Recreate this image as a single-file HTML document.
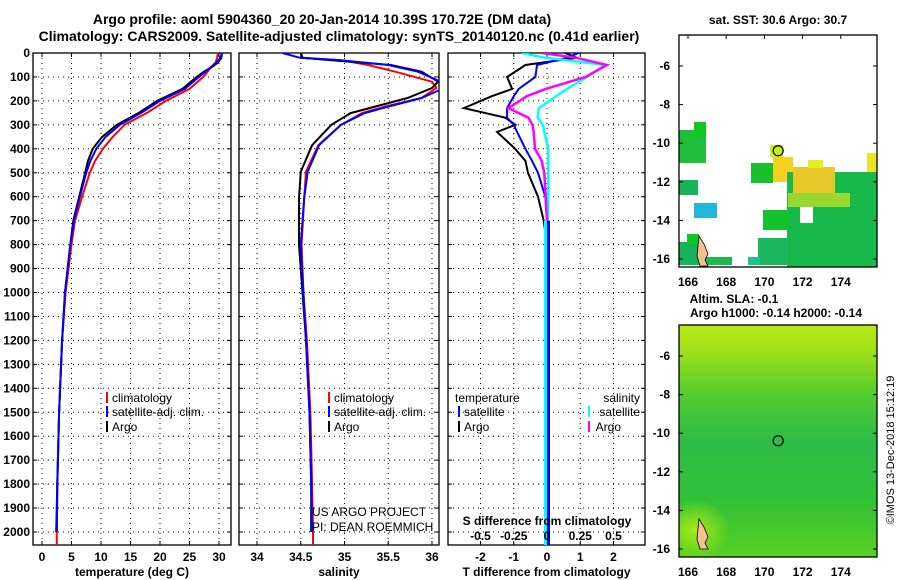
<!DOCTYPE html>
<html><head><meta charset="utf-8"><style>
body{margin:0;background:#fff;}
svg{display:block;font-family:"Liberation Sans",sans-serif;}
</style></head><body>
<svg id="c" width="900" height="580" xmlns="http://www.w3.org/2000/svg"></svg>
<script>
// ---- data ----
const depthTicks=[0,100,200,300,400,500,600,700,800,900,1000,1100,1200,1300,1400,1500,1600,1700,1800,1900,2000];
const tempTicks=[0,5,10,15,20,25,30];
const salTicks=[34,34.5,35,35.5,36];
const tdTicks=[-2,-1,0,1,2];
const sdTicks=[-0.5,-0.25,0,0.25,0.5];
const tDepth=[0,20,40,60,80,100,150,200,250,300,350,400,450,500,600,700,800,1000,1200,1500,1800,2000];
const tempArgo=[30.5,30.4,29.8,28.7,27.3,26.2,23.8,19.5,16.4,12.7,10.2,8.6,7.8,7.3,6.3,5.3,4.8,3.9,3.4,2.9,2.6,2.4];
const tempSat=[30.5,30.2,29.6,28.6,27.6,26.6,24.2,20,16.8,13.2,10.8,9.2,8.2,7.5,6.4,5.4,4.8,3.9,3.4,2.9,2.6,2.5];
const tempClim=[29.8,29.7,29.4,28.6,28,27.3,25,21,17.8,14,12,10.3,9,8.1,6.8,5.6,5,4,3.4,2.9,2.6,2.5];
const sDepth=[0,20,30,50,78,120,146,188,224,251,300,385,495,605,800,1000,1200,1500,1800,2000];
const salArgo=[34.5,34.52,34.85,35.53,35.88,36.07,36.0,35.72,35.35,35.07,34.85,34.63,34.5,34.48,34.48,34.52,34.56,34.6,34.62,34.62];
const salSat=[34.29,34.49,34.96,35.5,35.84,36.1,36.14,35.88,35.5,35.23,34.96,34.71,34.58,34.54,34.5,34.53,34.56,34.6,34.62,34.63];
const salClim=[34.5,34.52,34.96,35.27,35.58,36.0,36.05,35.88,35.46,35.2,34.96,34.7,34.56,34.54,34.51,34.53,34.57,34.61,34.63,34.64];
const dDepth=[0,20,50,100,150,180,230,270,300,330,400,450,500,600,700,800,2000];
const tdArgo=[0.55,0.9,-0.65,-1.2,-1.05,-1.65,-2.5,-1.25,-0.95,-1.5,-0.96,-0.65,-0.57,-0.27,-0.1,0,0];
const tdSat=[0.95,0.6,-0.3,-0.35,-0.85,-1.0,-1.2,-1.2,-1.0,-0.9,-0.65,-0.45,-0.27,-0.05,0,0.02,0.05];
const sdArgo=[-0.04,0.22,0.45,0.29,-0.01,-0.15,-0.29,-0.14,-0.11,-0.1,-0.09,-0.04,-0.02,-0.01,0,0,0];
const sdSat=[-0.19,-0.01,0.44,0.3,0.15,0.07,-0.06,-0.07,-0.03,-0.02,0.01,0.01,0.01,0.01,0.005,0.005,0];

const NS='http://www.w3.org/2000/svg';
const svg=document.getElementById('c');
function el(tag,attrs,parent){const e=document.createElementNS(NS,tag);for(const k in attrs)e.setAttribute(k,attrs[k]);(parent||svg).appendChild(e);return e;}
function txt(s,x,y,size,anchor,weight,fill,parent){const t=el('text',{x:x,y:y,'font-size':size,'text-anchor':anchor||'middle','font-weight':weight||'bold',fill:fill||'#000'},parent);t.textContent=s;return t;}

const yTop=53,yPer=0.2395;
function yD(d){return yTop+d*yPer;}
const panelTop=53, panelBot=545;
function xT(v){return 42+v*5.9;}
function xS(v){return 257+(v-34)*87.5;}
function xTD(v){return 547+v*33.25;}
function xSD(v){return 547+v*133;}
const defs=el('defs',{});

let t=txt('Argo profile: aoml 5904360_20 20-Jan-2014 10.39S 170.72E (DM data)',322,24,14);

t=txt('Climatology: CARS2009. Satellite-adjusted climatology: synTS_20140120.nc (0.41d earlier)',339,41,14);


let clipN=0;
function panel(name,x0,x1,xticks,xf,xfmt,xlabel){
  const g=el('g',{});
  
  
  depthTicks.forEach(d=>{el('line',{x1:x0,x2:x1,y1:yD(d),y2:yD(d),stroke:'#000','stroke-dasharray':'1,4','stroke-width':1},g);
    el('line',{x1:x0,x2:x0+4,y1:yD(d),y2:yD(d),stroke:'#000'},g);el('line',{x1:x1-4,x2:x1,y1:yD(d),y2:yD(d),stroke:'#000'},g);});
  xticks.forEach(v=>{const x=xf(v);el('line',{x1:x,x2:x,y1:panelTop,y2:panelBot,stroke:'#000','stroke-dasharray':'1,4'},g);
    el('line',{x1:x,x2:x,y1:panelBot-4,y2:panelBot,stroke:'#000'},g);el('line',{x1:x,x2:x,y1:panelTop,y2:panelTop+4,stroke:'#000'},g);
    const tt=txt(xfmt(v),x,561,12,'middle','bold','#000',g);});
  el('rect',{x:x0,y:panelTop,width:x1-x0,height:panelBot-panelTop,fill:'none',stroke:'#000','stroke-width':1.3},g);
  const lb=txt(xlabel,(x0+x1)/2,576,12,'middle','bold','#000',g);
  
  const id='cp'+(clipN++);
  const cp=el('clipPath',{id:id},defs);el('rect',{x:x0,y:panelTop,width:x1-x0,height:panelBot-panelTop},cp);
  const inner=el('g',{'clip-path':'url(#'+id+')'},g);
  return inner;
}
function line(g,xs,ds,xf,color,w,name){
  const p=xs.map((v,i)=>(i?'L':'M')+xf(v).toFixed(1)+','+yD(ds[i]).toFixed(1)).join('');
  const e=el('path',{d:p,fill:'none',stroke:color,'stroke-width':w||2},g);
  
  
}
depthTicks.forEach(d=>{const tt=txt(String(d),30,yD(d)+4,12,'end','bold');});

const g1=panel('temperature-panel',33,231,tempTicks,xT,v=>String(v),'temperature (deg C)');
line(g1,tempClim,tDepth,xT,'#f00',2,'temp-climatology-line');
line(g1,tempArgo,tDepth,xT,'#000',2,'temp-argo-line');
line(g1,tempSat,tDepth,xT,'#00f',2,'temp-satellite-line');
el('line',{x1:xT(2.5),x2:xT(2.5),y1:yD(2000),y2:panelBot,stroke:'#f00','stroke-width':2},g1);

const g2=panel('salinity-panel',239,439,salTicks,xS,v=>String(v),'salinity');
line(g2,salClim,sDepth,xS,'#f00',2,'sal-climatology-line');
line(g2,salArgo,sDepth,xS,'#000',2,'sal-argo-line');
line(g2,salSat,sDepth,xS,'#00f',2,'sal-satellite-line');
el('line',{x1:xS(34.64),x2:xS(34.64),y1:yD(2000),y2:panelBot,stroke:'#f00','stroke-width':2},g2);
txt('US ARGO PROJECT',312,516,12,'start','normal');
txt('PI: DEAN ROEMMICH',312,531,12,'start','normal');

const g3=panel('difference-panel',448,645,tdTicks,xTD,v=>String(v),'T difference from climatology');
line(g3,tdArgo,dDepth,xTD,'#000',2,'tdiff-argo-line');
line(g3,tdSat,dDepth,xTD,'#00f',2,'tdiff-satellite-line');
line(g3,sdSat,dDepth,xSD,'#0ff',2.5,'sdiff-satellite-line');
line(g3,sdArgo,dDepth,xSD,'#f0f',2.5,'sdiff-argo-line');
el('rect',{x:544,y:yD(700),width:4,height:panelBot-yD(700),fill:'#0ff'},g3);
el('rect',{x:547,y:yD(700),width:3,height:panelBot-yD(700),fill:'#00f'},g3);
txt('S difference from climatology',547,525,12,'middle','bold');
sdTicks.forEach(v=>{txt(String(v),xSD(v),540,12,'middle','bold');});

function leg(x,y,color,label){el('rect',{x:x,y:y-10,width:2,height:11,fill:color});const tt=txt(label,x+6,y,12,'start','normal');}
leg(106,402,'#f00','climatology');leg(106,416,'#00f','satellite-adj. clim.');leg(106,431,'#000','Argo');
leg(328,402,'#f00','climatology');leg(328,416,'#00f','satellite-adj. clim.');leg(328,431,'#000','Argo');
txt('temperature',455,402,12,'start','normal');
leg(458,416,'#00f','satellite');leg(458,431,'#000','Argo');
txt('salinity',640,402,12,'end','normal');
el('rect',{x:588,y:406,width:2,height:11,fill:'#0ff'});txt('satellite',640,416,12,'end','normal');
el('rect',{x:588,y:421,width:2,height:11,fill:'#f0f'});txt('Argo',621,431,12,'end','normal');

// maps
const mapLon=[166,168,170,172,174];
const mapLat=[-6,-8,-10,-12,-14,-16];
function lonX(l){return 688+(l-166)*19.1;}
const gm=el('g',{});


const latYt=l=>66+(-6-l)*19.3;
el('rect',{x:679,y:35,width:198,height:232,fill:'#fff'},gm);
const sstPatches=[
[679,130,27,33,'#1fbf3a'],[694,122,12,15,'#11c81e'],[679,180,19,15,'#19b35a'],[694,203,23,15,'#22b8d8'],
[679,242,21,23,'#15b45a'],[687,234,12,10,'#11c81e'],[700,257,32,8,'#1bba50'],
[751,163,22,20,'#18c12a'],[770,145,13,12,'#c8f020'],[773,157,20,25,'#f4d020'],
[787,172,90,95,'#17b94a'],[793,167,42,28,'#e8c828'],[808,160,15,8,'#e0f020'],[788,193,62,14,'#9ad830'],
[867,153,10,19,'#e8e628'],[763,210,25,20,'#13c22c'],[758,238,30,27,'#1bb860'],[748,257,12,8,'#20c48a'],
[800,207,13,16,'#ffffff']];
sstPatches.forEach(p=>{const r=el('rect',{x:p[0],y:p[1],width:p[2],height:p[3],fill:p[4]},gm);});
el('path',{d:'M699,236 l5,8 l4,10 l-3,6 l3,6 h-8 l-3,-10 z',fill:'#f8c090',stroke:'#000','stroke-width':0.8},gm);
el('circle',{cx:lonX(170.72),cy:latYt(-10.39),r:5,fill:'none',stroke:'#000','stroke-width':1.2},gm);
el('rect',{x:679,y:35,width:198,height:232,fill:'none',stroke:'#000','stroke-width':1.3},gm);
mapLon.forEach(l=>{el('line',{x1:lonX(l),x2:lonX(l),y1:35,y2:39,stroke:'#000'},gm);txt(String(l),lonX(l),286,12,'middle','bold','#000',gm);});
mapLat.forEach(l=>{el('line',{x1:679,x2:683,y1:latYt(l),y2:latYt(l),stroke:'#000'},gm);el('line',{x1:873,x2:877,y1:latYt(l),y2:latYt(l),stroke:'#000'},gm);txt(String(l),670,latYt(l)+4,12,'end','bold','#000',gm);});
txt('sat. SST: 30.6 Argo: 30.7',778,24,12,'middle','bold');

const gb=el('g',{});


const latYb=l=>356+(-6-l)*19.3;
const lg=el('linearGradient',{id:'slag',x1:'0',y1:'0',x2:'0',y2:'1'},defs);
[['0','#b8e814'],['0.12','#9ee01a'],['0.3','#52cc2c'],['0.5','#2ebc48'],['0.75','#30c038'],['1','#58d022']].forEach(s=>el('stop',{offset:s[0],'stop-color':s[1]},lg));
const mcp=el('clipPath',{id:'mapclip'},defs);el('rect',{x:679,y:325,width:198,height:232},mcp);
const gbi=el('g',{'clip-path':'url(#mapclip)'},gb);
el('rect',{x:679,y:325,width:198,height:232,fill:'url(#slag)'},gbi);
const rg=el('radialGradient',{id:'blob'},defs);
el('stop',{offset:'0','stop-color':'#b0ee10','stop-opacity':'0.9'},rg);el('stop',{offset:'1','stop-color':'#b0ee10','stop-opacity':'0'},rg);
el('ellipse',{cx:695,cy:530,rx:35,ry:30,fill:'url(#blob)'},gbi);
el('path',{d:'M699,519 l5,8 l4,10 l-3,6 l3,6 h-8 l-3,-10 z',fill:'#f8c090',stroke:'#000','stroke-width':0.8},gb);
el('circle',{cx:lonX(170.72),cy:latYb(-10.39),r:5,fill:'none',stroke:'#000','stroke-width':1.2},gb);
el('rect',{x:679,y:325,width:198,height:232,fill:'none',stroke:'#000','stroke-width':1.3},gb);
mapLon.forEach(l=>{txt(String(l),lonX(l),576,12,'middle','bold','#000',gb);});
mapLat.forEach(l=>{el('line',{x1:679,x2:683,y1:latYb(l),y2:latYb(l),stroke:'#000'},gb);el('line',{x1:873,x2:877,y1:latYb(l),y2:latYb(l),stroke:'#000'},gb);txt(String(l),670,latYb(l)+4,12,'end','bold','#000',gb);});
txt('Altim. SLA: -0.1',734,303,12,'middle','bold');
txt('Argo h1000: -0.14 h2000: -0.14',776,317,12,'middle','bold');
const cr=txt('©IMOS 13-Dec-2018 15:12:19',0,0,11,'middle','normal');
cr.setAttribute('transform','translate(894,450) rotate(-90)');

</script>
</body></html>
